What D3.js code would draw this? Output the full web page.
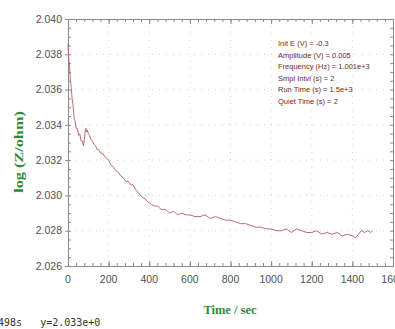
<!DOCTYPE html>
<html lang="en">
<head>
    <meta charset="UTF-8">
    <title>Impedance vs Time</title>
    <style>
        body { margin: 0; background: #fff; overflow: hidden; }
        svg { display: block; }
        .tick-label { font-family: "Liberation Sans Narrow", "Liberation Sans", sans-serif; font-size: 10.5px; fill: #505050; }
        .axis-title { font-family: "Liberation Serif", "DejaVu Serif", serif; font-weight: bold; font-size: 12.5px; fill: #2e8b3a; }
        .params { font-family: "Liberation Sans Narrow", "Liberation Sans", sans-serif; font-size: 7.5px; fill: #6a2b2b; }
        .status { font-family: "DejaVu Sans Mono", monospace; font-size: 10px; fill: #333; white-space: pre; }
    </style>
</head>
<body>
<div id="chart"></div>
<script src="https://d3js.org/d3.v7.min.js"></script>
<script>
    // values
    const timeSec = [0, 4, 8, 12, 16, 20, 25, 30, 35, 40, 46, 52, 58, 64, 70, 76, 80, 84, 88, 92, 96, 100,
        106, 112, 120, 128, 136, 144, 152, 160, 170, 180, 190, 200, 212, 224, 236, 248, 260, 272, 284, 296,
        308, 320, 335, 350, 365, 380, 395, 410, 425, 440, 460, 480, 500, 520, 540, 560, 580, 600, 625, 650,
        675, 700, 725, 750, 775, 800, 825, 850, 875, 900, 925, 950, 975, 1000, 1025, 1050, 1075, 1100, 1125,
        1150, 1175, 1200, 1225, 1250, 1275, 1300, 1325, 1350, 1375, 1400, 1415, 1430, 1445, 1460, 1475, 1490, 1500];
    const logZ = [2.0386, 2.0377, 2.0372, 2.0365, 2.0361, 2.0355, 2.0351, 2.0344, 2.0342, 2.0338, 2.0338, 2.0334,
        2.0335, 2.0331, 2.0331, 2.0328, 2.0331, 2.0336, 2.0338, 2.0336, 2.0337, 2.0335,
        2.0334, 2.0332, 2.0331, 2.0329, 2.0328, 2.0326, 2.0326, 2.0324, 2.0324, 2.0322, 2.0321, 2.0320,
        2.0317, 2.0316, 2.0314, 2.0313, 2.0311, 2.0310, 2.0308, 2.0308, 2.0306, 2.0306, 2.0303, 2.0301,
        2.0299, 2.0298, 2.0296, 2.0295, 2.0294, 2.0294, 2.0292, 2.0292, 2.0290, 2.0291, 2.0289, 2.0290,
        2.0289, 2.0289, 2.0288, 2.0288, 2.0289, 2.0287, 2.0288, 2.0287, 2.0286, 2.0286, 2.0285, 2.0284,
        2.0284, 2.0283, 2.0282, 2.0282, 2.0281, 2.0281, 2.0280, 2.0280, 2.0281, 2.0279, 2.0281,
        2.0280, 2.0279, 2.0279, 2.0280, 2.0278, 2.0279, 2.0278, 2.0279, 2.0277, 2.0278, 2.0277,
        2.0276, 2.0278, 2.0280, 2.0279, 2.0280, 2.0279, 2.0280];
    const xTicks = [0, 200, 400, 600, 800, 1000, 1200, 1400, 1600];
    const yTicks = [2.026, 2.028, 2.030, 2.032, 2.034, 2.036, 2.038, 2.040];
    const paramLines = ["Init E (V) = -0.3", "Amplitude (V) = 0.005", "Frequency (Hz) = 1.001e+3",
        "Smpl Intvl (s) = 2", "Run Time (s) = 1.5e+3", "Quiet Time (s) = 2"];
    const statusText = "498s   y=2.033e+0";

    const width = 395, height = 329;
    const plotLeft = 68, plotRight = 393, plotTop = 19, plotBottom = 266;

    const x = d3.scaleLinear().domain([0, 1600]).range([plotLeft, plotRight]);
    const y = d3.scaleLinear().domain([2.026, 2.040]).range([plotBottom, plotTop]);

    const svg = d3.select("#chart").append("svg")
        .attr("width", width)
        .attr("height", height);

    // dotted grid
    const grid = svg.append("g")
        .attr("stroke", "#d2d2d2")
        .attr("stroke-width", 1)
        .attr("stroke-dasharray", "1,6");
    grid.selectAll("line.v").data(xTicks.slice(1, -1)).join("line")
        .attr("x1", d => x(d)).attr("x2", d => x(d))
        .attr("y1", plotTop).attr("y2", plotBottom);
    grid.selectAll("line.h").data(yTicks.slice(1, -1)).join("line")
        .attr("x1", plotLeft).attr("x2", plotRight)
        .attr("y1", d => y(d)).attr("y2", d => y(d));

    // axes, ticks pointing inward, on all four sides
    const axisColor = "#8a8a8a";
    const minorX = d3.range(0, 1601, 40);
    const minorY = d3.range(0, 29).map(i => 2.026 + i * 0.0005);

    function styleAxis(g) {
        g.select(".domain").attr("stroke", axisColor);
        g.selectAll(".tick line").attr("stroke", axisColor);
        g.selectAll("text").remove();
    }

    svg.append("g").attr("transform", `translate(0,${plotBottom})`)
        .call(d3.axisTop(x).tickValues(minorX).tickSize(3).tickSizeOuter(0)).call(styleAxis);
    svg.append("g").attr("transform", `translate(0,${plotBottom})`)
        .call(d3.axisTop(x).tickValues(xTicks).tickSize(5).tickSizeOuter(0)).call(styleAxis);
    svg.append("g").attr("transform", `translate(0,${plotTop})`)
        .call(d3.axisBottom(x).tickValues(minorX).tickSize(3).tickSizeOuter(0)).call(styleAxis);
    svg.append("g").attr("transform", `translate(0,${plotTop})`)
        .call(d3.axisBottom(x).tickValues(xTicks).tickSize(5).tickSizeOuter(0)).call(styleAxis);
    svg.append("g").attr("transform", `translate(${plotLeft},0)`)
        .call(d3.axisRight(y).tickValues(minorY).tickSize(3).tickSizeOuter(0)).call(styleAxis);
    svg.append("g").attr("transform", `translate(${plotLeft},0)`)
        .call(d3.axisLeft(y).tickValues(yTicks).tickSize(3).tickSizeOuter(0)).call(styleAxis);
    svg.append("g").attr("transform", `translate(${plotRight},0)`)
        .call(d3.axisLeft(y).tickValues(minorY).tickSize(3).tickSizeOuter(0)).call(styleAxis);

    // tick labels
    svg.append("g").selectAll("text").data(yTicks).join("text")
        .attr("class", "tick-label")
        .attr("x", plotLeft - 6)
        .attr("y", d => y(d))
        .attr("dy", "0.35em")
        .attr("text-anchor", "end")
        .text(d => d3.format(".3f")(d));
    svg.append("g").selectAll("text").data(xTicks).join("text")
        .attr("class", "tick-label")
        .attr("x", d => x(d))
        .attr("y", plotBottom + 13)
        .attr("dy", "0.35em")
        .attr("text-anchor", "middle")
        .text(d => d);

    // data line
    const line = d3.line()
        .x((d, i) => x(timeSec[i]))
        .y(d => y(d));
    svg.append("path")
        .datum(logZ)
        .attr("fill", "none")
        .attr("stroke", "#b0605a")
        .attr("stroke-width", 0.9)
        .attr("d", line);

    // parameter block
    svg.append("g").selectAll("text").data(paramLines).join("text")
        .attr("class", "params")
        .attr("x", 278)
        .attr("y", (d, i) => 46 + i * 11.5)
        .text(d => d);

    // axis titles
    svg.append("text")
        .attr("class", "axis-title")
        .attr("transform", "translate(23,152) rotate(-90) scale(1.3,1)")
        .attr("text-anchor", "middle")
        .text("log (Z/ohm)");
    svg.append("text")
        .attr("class", "axis-title")
        .attr("x", 230)
        .attr("y", 314)
        .attr("text-anchor", "middle")
        .text("Time / sec");

    // cursor readout (its first digits run off the left edge, as in the reference)
    svg.append("text")
        .attr("class", "status")
        .attr("x", -2)
        .attr("y", 326)
        .text(statusText);
</script>
</body>
</html>
